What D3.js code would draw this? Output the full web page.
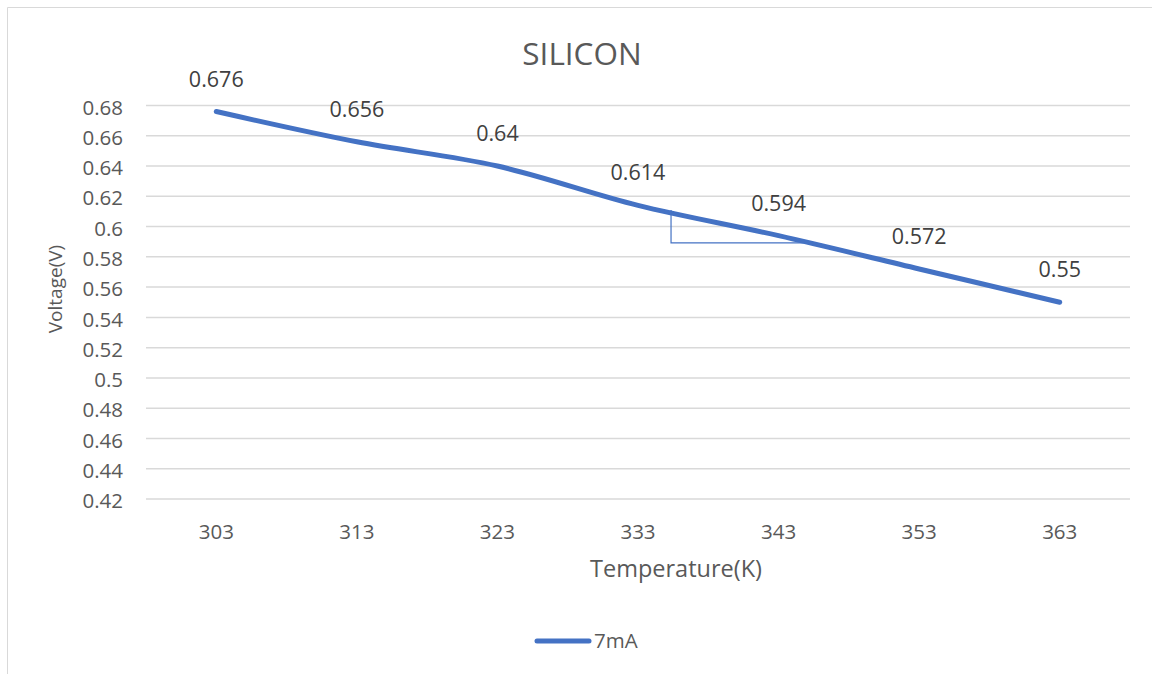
<!DOCTYPE html>
<html>
<head>
<meta charset="utf-8">
<script src="https://cdn.jsdelivr.net/npm/d3@7"></script>
<style>
  body { margin: 0; background: #fff; }
  svg { display: block; font-family: "Open Sans", sans-serif; }
</style>
</head>
<body>
<svg id="chart" width="1152" height="674"></svg>
<script>
'use strict';

// data
var temperatures = ['303', '313', '323', '333', '343', '353', '363']
var voltages = [0.676, 0.656, 0.64, 0.614, 0.594, 0.572, 0.55]
var yTicks = [0.42, 0.44, 0.46, 0.48, 0.5, 0.52, 0.54, 0.56, 0.58, 0.6, 0.62, 0.64, 0.66, 0.68]
var seriesName = '7mA'
// slope triangle drawn on the chart: [category position, voltage]
var slopeCorner = [3.235, 0.5892]
var slopeTop = [3.235, 0.611]
var slopeEnd = [4.18, 0.5892]

var svg = d3.select('#chart')
var blue = '#4472C4'
var textColor = '#595959'

var plot = { left: 146, right: 1130, top: 105.5, bottom: 499 }

var x = d3.scaleBand()
    .domain(temperatures)
    .range([plot.left, plot.right])

var y = d3.scaleLinear()
    .domain([0.42, 0.68])
    .range([plot.bottom, plot.top])

function xPos(i) {
    return x(temperatures[0]) + x.bandwidth() / 2 + i * x.step()
}

// outer chart border (left + top visible)
svg.append('path')
    .attr('d', 'M7.5,674V7.5H1152')
    .attr('fill', 'none')
    .attr('stroke', '#d9d9d9')
    .attr('stroke-width', 1)

// gridlines
svg.append('g')
    .selectAll('line')
    .data(yTicks)
    .enter().append('line')
    .attr('x1', plot.left)
    .attr('x2', plot.right)
    .attr('y1', function(d) { return y(d); })
    .attr('y2', function(d) { return y(d); })
    .attr('stroke', '#d9d9d9')
    .attr('stroke-width', 1.5)

// y axis labels
var yAxis = svg.append('g')
    .attr('transform', 'translate(' + plot.left + ',0)')
    .call(d3.axisLeft(y).tickValues(yTicks).tickSize(0).tickPadding(23)
        .tickFormat(function(d) { return String(+d.toFixed(2)); }))
yAxis.select('.domain').remove()
yAxis.selectAll('text')
    .attr('fill', textColor)
    .attr('dy', '0.42em')
    .style('font-size', '20.5px')
    .style('font-family', '"Open Sans", sans-serif')

// x axis labels
var xAxis = svg.append('g')
    .attr('transform', 'translate(0,' + plot.bottom + ')')
    .call(d3.axisBottom(x).tickSize(0).tickPadding(25))
xAxis.select('.domain').remove()
xAxis.selectAll('text')
    .attr('fill', textColor)
    .style('font-size', '20.5px')
    .style('font-family', '"Open Sans", sans-serif')

// slope triangle
svg.append('path')
    .attr('d', 'M' + xPos(slopeTop[0]) + ',' + y(slopeTop[1]) +
        'V' + y(slopeCorner[1]) + 'H' + xPos(slopeEnd[0]))
    .attr('fill', 'none')
    .attr('stroke', blue)
    .attr('stroke-width', 1.2)

// series line
var line = d3.line()
    .x(function(d, i) { return x(temperatures[i]) + x.bandwidth() / 2; })
    .y(function(d) { return y(d); })
    .curve(d3.curveCatmullRom.alpha(0.5))

svg.append('path')
    .datum(voltages)
    .attr('d', line)
    .attr('fill', 'none')
    .attr('stroke', blue)
    .attr('stroke-width', 5)
    .attr('stroke-linecap', 'round')

// data labels
svg.append('g')
    .selectAll('text')
    .data(voltages)
    .enter().append('text')
    .attr('x', function(d, i) { return x(temperatures[i]) + x.bandwidth() / 2; })
    .attr('y', function(d) { return y(d) - 25; })
    .attr('text-anchor', 'middle')
    .attr('fill', '#404040')
    .style('font-size', '21.5px')
    .text(function(d) { return d; })

// title
svg.append('text')
    .attr('x', 582)
    .attr('y', 65)
    .attr('text-anchor', 'middle')
    .attr('fill', textColor)
    .style('font-size', '31.5px')
    .text('SILICON')

// axis titles
svg.append('text')
    .attr('x', 676)
    .attr('y', 577)
    .attr('text-anchor', 'middle')
    .attr('fill', textColor)
    .style('font-size', '23.5px')
    .text('Temperature(K)')

svg.append('text')
    .attr('transform', 'translate(62,289) rotate(-90)')
    .attr('text-anchor', 'middle')
    .attr('fill', textColor)
    .style('font-size', '19px')
    .text('Voltage(V)')

// legend
var legend = svg.append('g')
legend.append('line')
    .attr('x1', 537)
    .attr('x2', 589)
    .attr('y1', 641)
    .attr('y2', 641)
    .attr('stroke', blue)
    .attr('stroke-width', 5)
    .attr('stroke-linecap', 'round')
legend.append('text')
    .attr('x', 594)
    .attr('y', 648)
    .attr('fill', textColor)
    .style('font-size', '20.5px')
    .text(seriesName)
</script>
</body>
</html>
